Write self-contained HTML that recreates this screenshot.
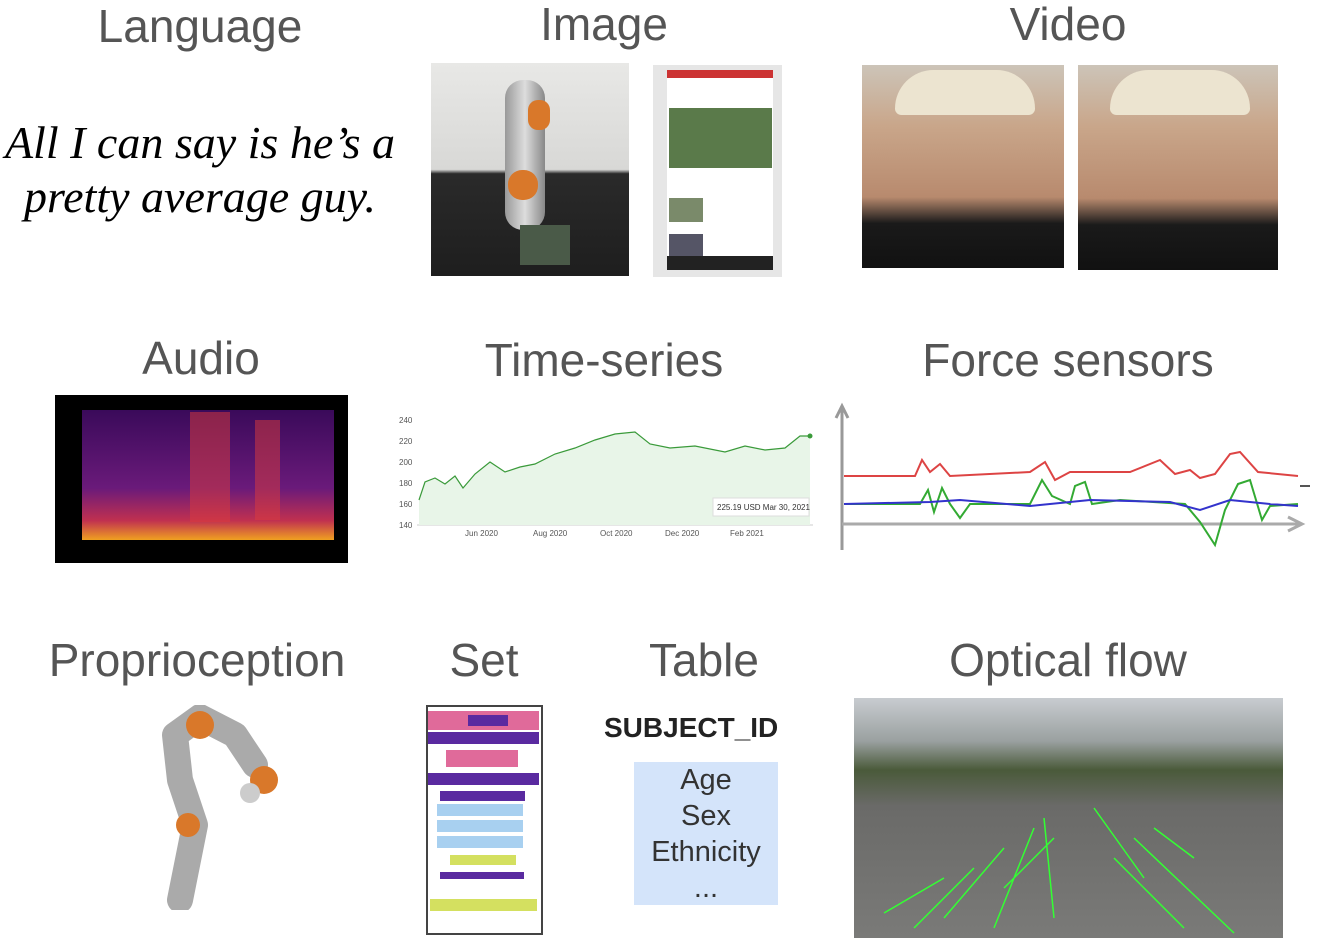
<!DOCTYPE html>
<html><head><meta charset="utf-8"><style>
body{margin:0;width:1323px;height:950px;background:#fff;position:relative;overflow:hidden;font-family:"Liberation Sans",sans-serif}
.t{position:absolute;color:#555;font-size:46px;transform:translateX(-50%);white-space:nowrap;line-height:1}
.a{position:absolute}
</style></head><body>
<div class="t" style="left:200px;top:3px">Language</div>
<div class="t" style="left:604px;top:1px">Image</div>
<div class="t" style="left:1068px;top:1px">Video</div>
<div class="t" style="left:201px;top:335px">Audio</div>
<div class="t" style="left:604px;top:337px">Time-series</div>
<div class="t" style="left:1068px;top:337px">Force sensors</div>
<div class="t" style="left:197px;top:637px">Proprioception</div>
<div class="t" style="left:484px;top:637px">Set</div>
<div class="t" style="left:704px;top:637px">Table</div>
<div class="t" style="left:1068px;top:637px">Optical flow</div>

<div class="a" style="left:-5px;top:116px;width:410px;text-align:center;font-family:'Liberation Serif',serif;font-style:italic;font-size:46px;line-height:54px;color:#000">All I can say is he’s a<br>pretty average guy.</div>

<div class="a" style="left:431px;top:63px;width:198px;height:213px;background:linear-gradient(#e8e8e6 0%,#d8d8d6 50%,#2a2a2a 52%,#1e1e1e 100%)"></div>
<div class="a" style="left:505px;top:80px;width:40px;height:150px;background:linear-gradient(90deg,#999,#ddd,#888);border-radius:18px"></div>
<div class="a" style="left:528px;top:100px;width:22px;height:30px;background:#d9782a;border-radius:10px"></div>
<div class="a" style="left:508px;top:170px;width:30px;height:30px;background:#d9782a;border-radius:14px"></div>
<div class="a" style="left:520px;top:225px;width:50px;height:40px;background:#4a5a48"></div>
<div class="a" style="left:653px;top:65px;width:129px;height:212px;background:#e6e6e6"></div>
<div class="a" style="left:667px;top:70px;width:106px;height:200px;background:#fff"></div>
<div class="a" style="left:667px;top:70px;width:106px;height:8px;background:#c33"></div>
<div class="a" style="left:669px;top:108px;width:103px;height:60px;background:#5a7a4a"></div>
<div class="a" style="left:669px;top:198px;width:34px;height:24px;background:#7a8a6a"></div>
<div class="a" style="left:669px;top:234px;width:34px;height:22px;background:#556"></div>
<div class="a" style="left:667px;top:256px;width:106px;height:14px;background:#222"></div>
<div class="a" style="left:862px;top:65px;width:202px;height:203px;background:linear-gradient(#ccc4b8 0%,#c9a68a 30%,#b88a6e 65%,#1a1a1a 78%,#111 100%)"></div>
<div class="a" style="left:1078px;top:65px;width:200px;height:205px;background:linear-gradient(#ccc4b8 0%,#c9a68a 30%,#b88a6e 65%,#1a1a1a 78%,#111 100%)"></div>
<div class="a" style="left:895px;top:70px;width:140px;height:45px;background:#ece4d0;border-radius:60px 60px 10px 10px"></div>
<div class="a" style="left:1110px;top:70px;width:140px;height:45px;background:#ece4d0;border-radius:60px 60px 10px 10px"></div>

<div class="a" style="left:55px;top:395px;width:293px;height:168px;background:#000"></div>
<div class="a" style="left:82px;top:410px;width:252px;height:130px;background:linear-gradient(0deg,#f0a020 0%,#c03050 15%,#6a1a7a 40%,#3a0a5a 100%)"></div>
<div class="a" style="left:190px;top:412px;width:40px;height:110px;background:rgba(220,60,60,.5)"></div>
<div class="a" style="left:255px;top:420px;width:25px;height:100px;background:rgba(220,60,60,.5)"></div>

<svg class="a" style="left:395px;top:412px" width="420" height="130">
<g font-size="8" fill="#555"><text x="4" y="11">240</text><text x="4" y="32">220</text><text x="4" y="53">200</text><text x="4" y="74">180</text><text x="4" y="95">160</text><text x="4" y="116">140</text>
<text x="70" y="124">Jun 2020</text><text x="138" y="124">Aug 2020</text><text x="205" y="124">Oct 2020</text><text x="270" y="124">Dec 2020</text><text x="335" y="124">Feb 2021</text></g>
<line x1="22" y1="113" x2="418" y2="113" stroke="#ccc"/>
<path d="M24 88 L30 70 L40 66 L50 72 L60 64 L68 76 L80 62 L95 50 L110 60 L125 55 L140 52 L160 42 L180 36 L200 28 L220 22 L240 20 L255 32 L275 36 L300 34 L330 40 L350 34 L370 38 L390 36 L405 24 L415 24 L415 113 L24 113Z" fill="#e8f5e8"/>
<path d="M24 88 L30 70 L40 66 L50 72 L60 64 L68 76 L80 62 L95 50 L110 60 L125 55 L140 52 L160 42 L180 36 L200 28 L220 22 L240 20 L255 32 L275 36 L300 34 L330 40 L350 34 L370 38 L390 36 L405 24 L415 24" fill="none" stroke="#3a9a3a" stroke-width="1.2"/>
<circle cx="415" cy="24" r="2.5" fill="#3a9a3a"/>
<rect x="318" y="86" width="96" height="18" fill="#fff" stroke="#ddd"/>
<text x="322" y="98" font-size="8" fill="#333">225.19 USD  Mar 30, 2021</text>
</svg>

<svg class="a" style="left:830px;top:400px" width="480" height="155">
<path d="M12 150 V8 M6 18 L12 6 L18 18" stroke="#999" stroke-width="3" fill="none"/>
<path d="M12 124 H470 M458 117 L472 124 L458 131" stroke="#aaa" stroke-width="3" fill="none"/>
<path d="M14 76 L85 76 L92 60 L100 72 L110 64 L120 76 L200 72 L215 62 L225 80 L240 72 L300 72 L330 60 L345 74 L360 70 L370 78 L385 74 L400 54 L410 52 L428 72 L468 76" stroke="#d44" stroke-width="2" fill="none"/>
<path d="M14 104 L90 104 L98 90 L104 112 L112 88 L120 104 L130 118 L140 104 L200 104 L212 80 L222 96 L240 104 L245 86 L255 82 L262 104 L290 100 L355 104 L370 122 L385 145 L395 110 L408 84 L420 80 L432 120 L440 106 L468 104" stroke="#3a3" stroke-width="2" fill="none"/>
<path d="M14 104 L100 102 L130 100 L200 106 L260 100 L340 102 L370 110 L400 100 L440 104 L468 106" stroke="#33c" stroke-width="2" fill="none"/>
<path d="M470 86 H482" stroke="#555" stroke-width="2"/>
</svg>

<svg class="a" style="left:140px;top:705px" width="150" height="205">
<path d="M40 195 L55 120 L40 75 L35 30 L60 12 L95 30 L115 60" stroke="#aaa" stroke-width="26" fill="none" stroke-linecap="round" stroke-linejoin="round"/>
<circle cx="60" cy="20" r="14" fill="#d9782a"/><circle cx="124" cy="75" r="14" fill="#d9782a"/><circle cx="48" cy="120" r="12" fill="#d9782a"/>
<circle cx="110" cy="88" r="10" fill="#ccc"/>
</svg>

<div class="a" style="left:426px;top:705px;width:113px;height:226px;border:2px solid #444;background:#fff"></div>
<div class="a" style="left:428px;top:711px;width:111px;height:19px;background:#e06a9a"></div>
<div class="a" style="left:468px;top:715px;width:40px;height:11px;background:#5a2aa0"></div>
<div class="a" style="left:428px;top:732px;width:111px;height:12px;background:#5a2aa0"></div>
<div class="a" style="left:446px;top:750px;width:72px;height:17px;background:#e06a9a"></div>
<div class="a" style="left:428px;top:773px;width:111px;height:12px;background:#5a2aa0"></div>
<div class="a" style="left:440px;top:791px;width:85px;height:10px;background:#5a2aa0"></div>
<div class="a" style="left:437px;top:804px;width:86px;height:44px;background:repeating-linear-gradient(#a8d0f0 0 12px,#fff 12px 16px)"></div>
<div class="a" style="left:450px;top:855px;width:66px;height:10px;background:#d4e060"></div>
<div class="a" style="left:440px;top:872px;width:84px;height:7px;background:#5a2aa0"></div>
<div class="a" style="left:430px;top:899px;width:107px;height:12px;background:#d4e060"></div>

<div class="a" style="left:604px;top:712px;font-size:28px;font-weight:bold;color:#222">SUBJECT_ID</div>
<div class="a" style="left:634px;top:762px;width:144px;height:143px;background:#d4e4fa;text-align:center;font-size:29px;line-height:36px;color:#333;padding-top:0"><div style="padding-top:0">Age<br>Sex<br>Ethnicity<br>...</div></div>

<div class="a" style="left:854px;top:698px;width:429px;height:240px;background:linear-gradient(#c8ccd0 0%,#9aa0a0 18%,#4a5a3a 30%,#6a6a68 45%,#7a7a78 100%)"></div>
<svg class="a" style="left:854px;top:698px" width="429" height="240">
<g stroke="#3f3" stroke-width="1.5"><path d="M60 230 L120 170 M90 220 L150 150 M140 230 L180 130 M200 220 L190 120 M260 160 L330 230 M280 140 L380 235 M240 110 L290 180 M150 190 L200 140 M30 215 L90 180 M300 130 L340 160"/></g>
</svg>
</body></html>
